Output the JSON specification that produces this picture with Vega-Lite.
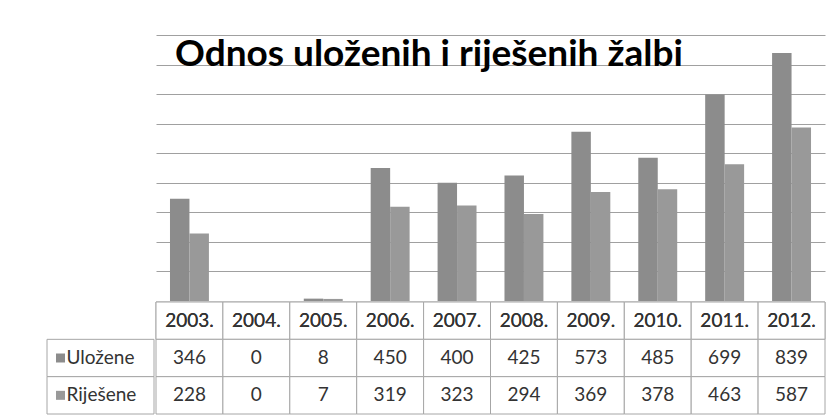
{
  "$schema": "https://vega.github.io/schema/vega-lite/v6.json",
  "background": "white",
  "padding": {"left": 46, "top": 35, "right": 0, "bottom": 0},
  "autosize": {"type": "pad"},
  "spacing": 0,
  "columns": 2,
  "datasets": {
    "d": [
      {"year": "2003.", "series": "Uložene", "value": 346},
      {"year": "2004.", "series": "Uložene", "value": 0},
      {"year": "2005.", "series": "Uložene", "value": 8},
      {"year": "2006.", "series": "Uložene", "value": 450},
      {"year": "2007.", "series": "Uložene", "value": 400},
      {"year": "2008.", "series": "Uložene", "value": 425},
      {"year": "2009.", "series": "Uložene", "value": 573},
      {"year": "2010.", "series": "Uložene", "value": 485},
      {"year": "2011.", "series": "Uložene", "value": 699},
      {"year": "2012.", "series": "Uložene", "value": 839},
      {"year": "2003.", "series": "Riješene", "value": 228},
      {"year": "2004.", "series": "Riješene", "value": 0},
      {"year": "2005.", "series": "Riješene", "value": 7},
      {"year": "2006.", "series": "Riješene", "value": 319},
      {"year": "2007.", "series": "Riješene", "value": 323},
      {"year": "2008.", "series": "Riješene", "value": 294},
      {"year": "2009.", "series": "Riješene", "value": 369},
      {"year": "2010.", "series": "Riješene", "value": 378},
      {"year": "2011.", "series": "Riješene", "value": 463},
      {"year": "2012.", "series": "Riješene", "value": 587}
    ],
    "series": [
      {"series": "Uložene"},
      {"series": "Riješene"}
    ],
    "title": [
      {"title": "Odnos uloženih i riješenih žalbi"}
    ]
  },
  "concat": [
    {
      "width": 107,
      "height": 266,
      "data": {"values": []},
      "mark": {"type": "point", "opacity": 0},
      "encoding": {}
    },
    {
      "width": 669,
      "height": 266,
      "layer": [
        {
          "data": {"name": "d"},
          "mark": {"type": "bar"},
          "encoding": {
            "x": {
              "field": "year",
              "type": "ordinal",
              "axis": null,
              "scale": {"paddingInner": 0.418, "paddingOuter": 0.209}
            },
            "xOffset": {"field": "series", "sort": ["Uložene", "Riješene"]},
            "y": {
              "field": "value",
              "type": "quantitative",
              "scale": {"domain": [0, 900], "nice": false},
              "axis": {
                "values": [100, 200, 300, 400, 500, 600, 700, 800, 900],
                "grid": true,
                "labels": false,
                "ticks": false,
                "domain": false,
                "title": null,
                "gridColor": "#a0a0a0",
                "gridOpacity": 1,
                "gridWidth": 1
              }
            },
            "color": {
              "field": "series",
              "scale": {"domain": ["Uložene", "Riješene"], "range": ["#8c8c8c", "#999999"]},
              "legend": null
            }
          }
        },
        {
          "data": {"name": "title"},
          "mark": {
            "type": "text",
            "align": "left",
            "baseline": "alphabetic",
            "font": "Lato",
            "fontSize": 37,
            "fontWeight": "bold",
            "color": "#000000"
          },
          "encoding": {
            "x": {"value": 19},
            "y": {"value": 31},
            "text": {"field": "title"}
          }
        }
      ]
    },
    {
      "width": 107,
      "height": 112,
      "data": {"name": "series"},
      "layer": [
        {
          "mark": {"type": "rect", "fill": "white", "stroke": "#a6a6a6", "strokeWidth": 1},
          "encoding": {
            "y": {
              "field": "series",
              "type": "nominal",
              "axis": null,
              "scale": {"domain": ["hdr", "Uložene", "Riješene"], "paddingInner": 0, "paddingOuter": 0}
            }
          }
        },
        {
          "mark": {"type": "point", "shape": "square", "size": 81, "filled": true, "opacity": 1, "xOffset": -40},
          "encoding": {
            "y": {"field": "series", "type": "nominal"},
            "color": {
              "field": "series",
              "scale": {"domain": ["Uložene", "Riješene"], "range": ["#8c8c8c", "#999999"]},
              "legend": null
            }
          }
        },
        {
          "mark": {"type": "text", "align": "left", "baseline": "middle", "dx": -34, "font": "Lato", "fontSize": 19, "fontWeight": "normal", "color": "#333333"},
          "encoding": {
            "y": {"field": "series", "type": "nominal"},
            "text": {"field": "series"}
          }
        }
      ],
      "resolve": {"scale": {"color": "independent"}}
    },
    {
      "width": 669,
      "height": 112,
      "data": {"name": "d"},
      "layer": [
        {
          "mark": {"type": "rect", "fill": "white", "stroke": "#a6a6a6", "strokeWidth": 1},
          "encoding": {
            "x": {"field": "year", "type": "ordinal", "axis": null, "scale": {"paddingInner": 0, "paddingOuter": 0}},
            "y": {
              "datum": "hdr",
              "type": "nominal",
              "axis": null,
              "scale": {"domain": ["hdr", "Uložene", "Riješene"], "paddingInner": 0, "paddingOuter": 0}
            }
          }
        },
        {
          "mark": {"type": "rect", "fill": "white", "stroke": "#a6a6a6", "strokeWidth": 1},
          "encoding": {
            "x": {"field": "year", "type": "ordinal"},
            "y": {"field": "series", "type": "nominal"}
          }
        },
        {
          "mark": {"type": "text", "align": "center", "baseline": "middle", "font": "Lato", "fontSize": 19, "fontWeight": "normal", "color": "#333333"},
          "encoding": {
            "x": {"field": "year", "type": "ordinal"},
            "y": {"datum": "hdr", "type": "nominal"},
            "text": {"field": "year"}
          }
        },
        {
          "mark": {"type": "text", "align": "center", "baseline": "middle", "font": "Lato", "fontSize": 19, "fontWeight": "normal", "color": "#333333"},
          "encoding": {
            "x": {"field": "year", "type": "ordinal"},
            "y": {"field": "series", "type": "nominal"},
            "text": {"field": "value"}
          }
        }
      ]
    }
  ],
  "config": {
    "view": {"stroke": null},
    "font": "Lato"
  }
}
